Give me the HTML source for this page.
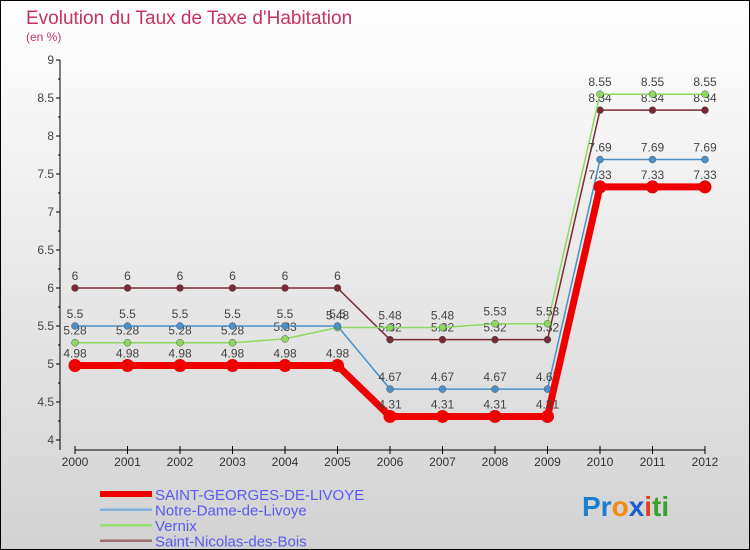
<!DOCTYPE html>
<html><head><meta charset="utf-8"><style>
body{margin:0;width:750px;height:550px;overflow:hidden;font-family:"Liberation Sans",sans-serif}
svg{display:block}
</style></head><body>
<svg id="c" width="750" height="550" xmlns="http://www.w3.org/2000/svg">
<defs><linearGradient id="bg" x1="0" y1="0" x2="0" y2="1"><stop offset="0" stop-color="#ffffff"/><stop offset="1" stop-color="#d2d2d2"/></linearGradient></defs>
<rect x="0.5" y="0.5" width="749" height="549" fill="url(#bg)" stroke="#000"/>
<text x="26" y="24" font-size="19" fill="#c8325e">Evolution du Taux de Taxe d'Habitation</text>
<text x="26" y="41" font-size="12" fill="#c8325e">(en %)</text>
<g id="axes"></g><g id="series"></g><g id="legend"></g>
<text x="582" y="516" font-size="28" font-weight="bold"><tspan fill="#1a7fd0">Pr</tspan><tspan fill="#f08a10">o</tspan><tspan fill="#1a5fd0">x</tspan><tspan fill="#e04020">i</tspan><tspan fill="#3aa030">ti</tspan></text>
</svg>
<script>
const years=[2000,2001,2002,2003,2004,2005,2006,2007,2008,2009,2010,2011,2012];
const yTicks=[4,4.5,5,5.5,6,6.5,7,7.5,8,8.5,9];
const sgValues=[4.98,4.98,4.98,4.98,4.98,4.98,4.31,4.31,4.31,4.31,7.33,7.33,7.33];
const ndValues=[5.5,5.5,5.5,5.5,5.5,5.5,4.67,4.67,4.67,4.67,7.69,7.69,7.69];
const vxValues=[5.28,5.28,5.28,5.28,5.33,5.48,5.48,5.48,5.53,5.53,8.55,8.55,8.55];
const snValues=[6,6,6,6,6,6,5.32,5.32,5.32,5.32,8.34,8.34,8.34];
const seriesNames=["SAINT-GEORGES-DE-LIVOYE","Notre-Dame-de-Livoye","Vernix","Saint-Nicolas-des-Bois"];
const NS="http://www.w3.org/2000/svg";
const X=i=>75+i*52.5, Y=v=>440-(v-4)*76;
function mk(p,t,a,txt){const e=document.createElementNS(NS,t);for(const k in a)e.setAttribute(k,a[k]);if(txt!==undefined)e.textContent=txt;p.appendChild(e);return e;}
const ax=document.getElementById('axes');
let e=mk(ax,'line',{x1:60,y1:60,x2:60,y2:450,stroke:'#000'});

e=mk(ax,'line',{x1:75,y1:450,x2:705,y2:450,stroke:'#000'});

yTicks.forEach(v=>{mk(ax,'line',{x1:56,y1:Y(v),x2:60,y2:Y(v),stroke:'#000'});
 if(v<9)mk(ax,'line',{x1:58,y1:Y(v+0.25),x2:60,y2:Y(v+0.25),stroke:'#000'});
 e=mk(ax,'text',{x:54,y:Y(v)+4,'font-size':12,fill:'#444','text-anchor':'end'},String(v));
 });
years.forEach((y,i)=>{mk(ax,'line',{x1:X(i),y1:446,x2:X(i),y2:454,stroke:'#000'});
 e=mk(ax,'text',{x:X(i),y:466,'font-size':12,fill:'#333','text-anchor':'middle'},String(y));
 });
const sg=document.getElementById('series');
const defs=[[snValues,'#7a2a35',1.5,3.5,-8],[vxValues,'#8ed860',1.5,3.5,-8],[ndValues,'#4a90c8',1.5,3.5,-8],[sgValues,'#ee0000',7,6.5,-8]];
const names=['series-saint-nicolas','series-vernix','series-notre-dame','series-saint-georges'];
defs.forEach(([vals,col,w,r,dy],k)=>{
 const g=mk(sg,'g',{});
 
 mk(g,'polyline',{points:vals.map((v,i)=>X(i)+','+Y(v)).join(' '),fill:'none',stroke:col,'stroke-width':w});
 vals.forEach((v,i)=>{const c=mk(g,'circle',{cx:X(i),cy:Y(v),r:r,fill:col,stroke:k==3?'none':'#555','stroke-width':0.5});
  
  const t=mk(g,'text',{x:X(i),y:Y(v)+dy,'font-size':12,fill:'#444','text-anchor':'middle'},String(v));
  });
});
const lg=document.getElementById('legend');
const lcol=['#ee0000','#80b0d8','#98e070','#a07070'];
seriesNames.forEach((n,i)=>{const y=494+i*15.5;
 const g=mk(lg,'g',{});
 
 mk(g,'rect',{x:100,y:y-(i==0?3:1),width:52,height:i==0?6:2.5,fill:lcol[i]});
 mk(g,'text',{x:155,y:y+6,'font-size':15,fill:'#5a5af0'},n);});
</script>
</body></html>
